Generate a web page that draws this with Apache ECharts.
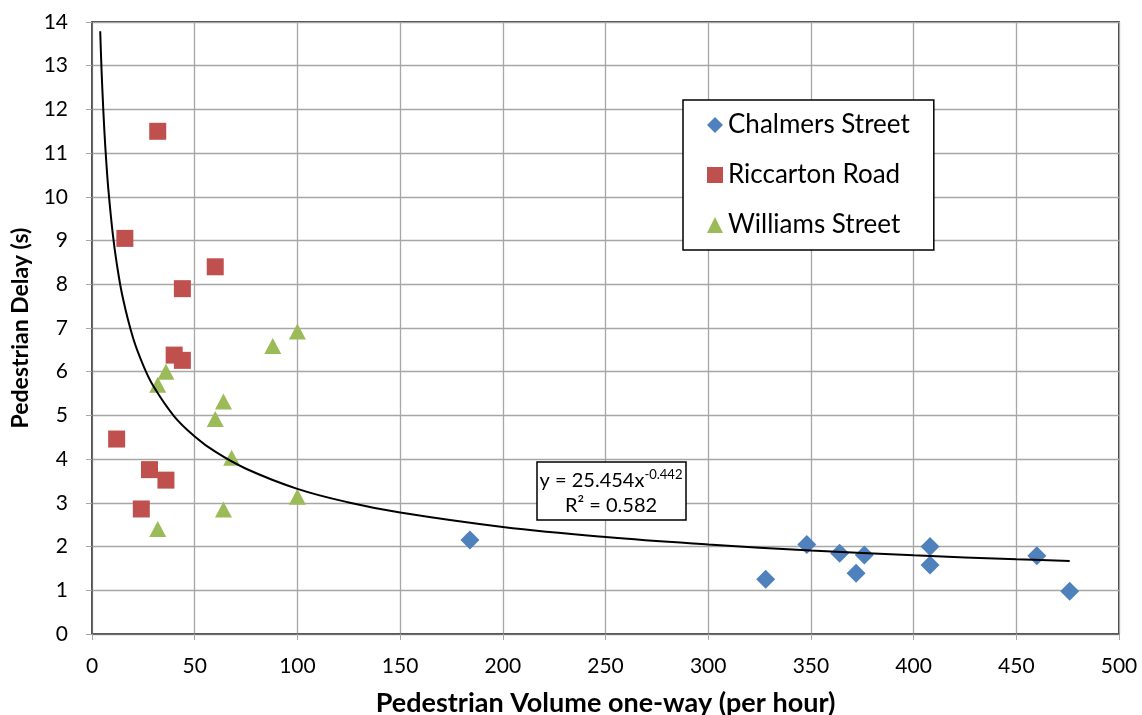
<!DOCTYPE html>
<html>
<head>
<meta charset="utf-8">
<script src="https://cdn.jsdelivr.net/npm/echarts@6/dist/echarts.min.js"></script>
<style>
html,body{margin:0;padding:0;background:#fff;}
#chart{width:1142px;height:715px;}
</style>
</head>
<body>
<div id="chart"></div>
<script>
// Data
const chalmers = [[184,2.15],[328,1.25],[348,2.05],[364,1.85],[376,1.81],[372,1.39],[408,2.0],[408,1.58],[460,1.79],[476,0.98]];
const riccarton = [[32,11.5],[16,9.05],[60,8.4],[44,7.9],[40,6.38],[44,6.26],[12,4.46],[28,3.76],[36,3.52],[24,2.86]];
const williams = [[32,5.7],[36,6.0],[60,4.92],[64,5.32],[68,4.03],[88,6.59],[100,6.92],[100,3.14],[64,2.85],[32,2.4]];
// Power trendline as drawn (y = 25.454x^-0.442)
const trendX = [4,4.5,5,6,7,8,10,12,15,20,25,30,40,50,60,75,100,125,150,200,250,300,350,400,450,476];
const trendY = [13.79,13.09,12.5,11.53,10.77,10.15,9.2,8.49,7.69,6.77,6.14,5.66,4.98,4.52,4.17,3.78,3.32,3.01,2.78,2.45,2.22,2.05,1.91,1.8,1.71,1.67];
const xTicks = {min:0,max:500,interval:50};
const yTicks = {min:0,max:14,interval:1};
const seriesNames = ['Chalmers Street','Riccarton Road','Williams Street'];
const eqLine1 = 'y = 25.454x';
const eqSup = '-0.442';
const eqLine2 = 'R² = 0.582';

const FONT = 'Lato, "Open Sans", sans-serif';
const chart = echarts.init(document.getElementById('chart'), null, {renderer:'canvas'});
const trend = trendX.map((x,i)=>[x,trendY[i]]);

chart.setOption({
  animation:false,
  backgroundColor:'#fff',
  textStyle:{fontFamily:FONT},
  grid:{left:92,top:22,right:23,bottom:81,containLabel:false,outerBoundsMode:'none',show:true,borderColor:'#000',borderWidth:1.5,backgroundColor:'transparent'},
  legend:{
    data:seriesNames,
    orient:'vertical',
    left:683, top:100,
    backgroundColor:'#fff',
    borderColor:'#000', borderWidth:1.5,
    padding:[11,24,11,24],
    itemWidth:16, itemHeight:16, itemGap:22,
    textStyle:{fontSize:26, fontFamily:FONT, color:'#000', lineHeight:28}
  },
  xAxis:{
    type:'value', min:xTicks.min, max:xTicks.max, interval:xTicks.interval,
    name:'Pedestrian Volume one-way (per hour)', nameLocation:'middle', nameGap:56,
    nameTextStyle:{fontSize:27, fontWeight:'bold', color:'#000', fontFamily:FONT},
    axisLine:{show:true,lineStyle:{color:'#595959',width:1.5}},
    axisTick:{show:true,length:6,lineStyle:{color:'#a6a6a6'}},
    axisLabel:{fontSize:21,color:'#000',margin:22,fontFamily:FONT},
    splitLine:{show:true,lineStyle:{color:'#a6a6a6',width:1.3}}
  },
  yAxis:{
    type:'value', min:yTicks.min, max:yTicks.max, interval:yTicks.interval,
    name:'Pedestrian Delay (s)', nameLocation:'middle', nameGap:60, nameRotate:90,
    nameTextStyle:{fontSize:23, fontWeight:'bold', color:'#000', fontFamily:FONT},
    axisLine:{show:true,lineStyle:{color:'#595959',width:1.5}},
    axisTick:{show:true,length:6,lineStyle:{color:'#a6a6a6'}},
    axisLabel:{fontSize:21,color:'#000',margin:24,fontFamily:FONT},
    splitLine:{show:true,lineStyle:{color:'#a6a6a6',width:1.3}}
  },
  series:[
    {name:seriesNames[0],type:'scatter',data:chalmers,symbol:'diamond',symbolSize:19,itemStyle:{color:'#4F81BD',opacity:1}},
    {name:seriesNames[1],type:'scatter',data:riccarton,symbol:'rect',symbolSize:17,itemStyle:{color:'#C0504D',opacity:1}},
    {name:seriesNames[2],type:'scatter',data:williams,symbol:'triangle',symbolSize:[17,16],itemStyle:{color:'#9BBB59',opacity:1}},
    {name:'trend',type:'line',data:trend,smooth:0.4,showSymbol:false,symbol:'none',lineStyle:{color:'#000',width:2},z:5,silent:true}
  ],
  graphic:[
    {type:'rect',shape:{x:537,y:462,width:149,height:58},style:{fill:'#fff',stroke:'#000',lineWidth:1.5},z:10},
    {type:'text',x:611,y:481,z:11,style:{
      text:'{m|'+eqLine1+'}{s|'+eqSup+'}',
      align:'center',verticalAlign:'middle',
      rich:{
        m:{fontSize:20,fontFamily:FONT,fill:'#000'},
        s:{fontSize:13,fontFamily:FONT,fill:'#000',padding:[0,0,12,0]}
      }
    }},
    {type:'text',x:611,y:506,z:11,style:{text:eqLine2,align:'center',verticalAlign:'middle',fontSize:20,fontFamily:FONT,fill:'#000'}}
  ]
});
</script>
</body>
</html>
